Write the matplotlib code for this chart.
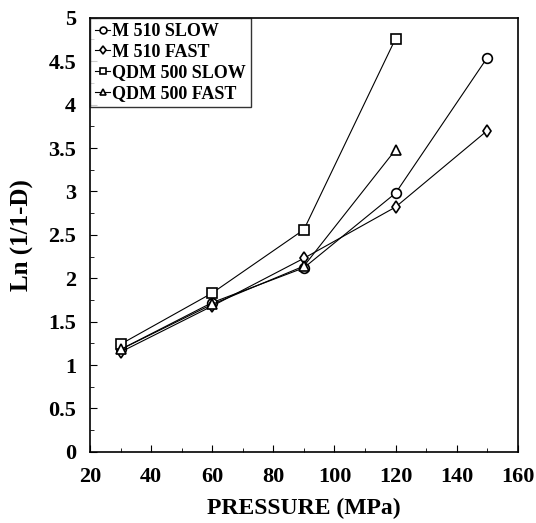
import matplotlib
matplotlib.use("Agg")
import matplotlib.pyplot as plt
from matplotlib.ticker import MultipleLocator, FormatStrFormatter

plt.rcParams['font.family'] = ['Liberation Serif', 'DejaVu Serif']
plt.rcParams['font.weight'] = 'bold'

pressure = [30, 60, 90, 120, 150]
pressure_qdm = [30, 60, 90, 120]

m510_slow = [1.18, 1.72, 2.12, 2.98, 4.54]
m510_fast = [1.15, 1.68, 2.23, 2.82, 3.70]
qdm500_slow = [1.24, 1.83, 2.56, 4.76]
qdm500_fast = [1.18, 1.70, 2.14, 3.48]

fig = plt.figure(figsize=(5.36, 5.23), dpi=100)
ax = fig.add_axes([0.168, 0.136, 0.798, 0.830])

style = dict(color='black', lw=0.8, markerfacecolor='white', markeredgecolor='black',
             markeredgewidth=1.2)
ax.plot(pressure, m510_slow, marker='o', ms=7, label='M 510 SLOW', **style)
ax.plot(pressure, m510_fast, marker='d', ms=6.5, label='M 510 FAST', **style)
ax.plot(pressure_qdm, qdm500_slow, marker='s', ms=7, label='QDM 500 SLOW', **style)
ax.plot(pressure_qdm, qdm500_fast, marker='^', ms=6.5, label='QDM 500 FAST', **style)

ax.set_xlim(20, 160)
ax.set_ylim(0, 5)
ax.xaxis.set_major_locator(MultipleLocator(20))
ax.xaxis.set_minor_locator(MultipleLocator(10))
ax.yaxis.set_major_locator(MultipleLocator(0.5))
ax.yaxis.set_minor_locator(MultipleLocator(0.25))
ax.yaxis.set_major_formatter(FormatStrFormatter('%g'))
ax.tick_params(which='both', direction='in', labelsize=16, top=False, right=False)
ax.tick_params(which='major', length=5)
ax.tick_params(which='minor', length=3)
ax.tick_params(axis='x', which='major', pad=11)
ax.tick_params(axis='y', which='major', pad=10)
for s in ax.spines.values():
    s.set_linewidth(1.2)

ax.set_xlabel('PRESSURE (MPa)', fontsize=17, fontweight='bold')
ax.set_ylabel('Ln (1/1-D)', fontsize=18, fontweight='bold')
ax.xaxis.set_label_coords(0.5, -0.105)
ax.yaxis.set_label_coords(-0.13, 0.5)

leg = ax.legend(loc='upper left', fontsize=13, frameon=True, fancybox=False,
                edgecolor='black', borderaxespad=0, handlelength=0.8,
                handletextpad=0.1, borderpad=0.3, labelspacing=0.2, markerscale=0.7)
leg.get_frame().set_linewidth(1.0)

fig.savefig('out.png', dpi=100)
